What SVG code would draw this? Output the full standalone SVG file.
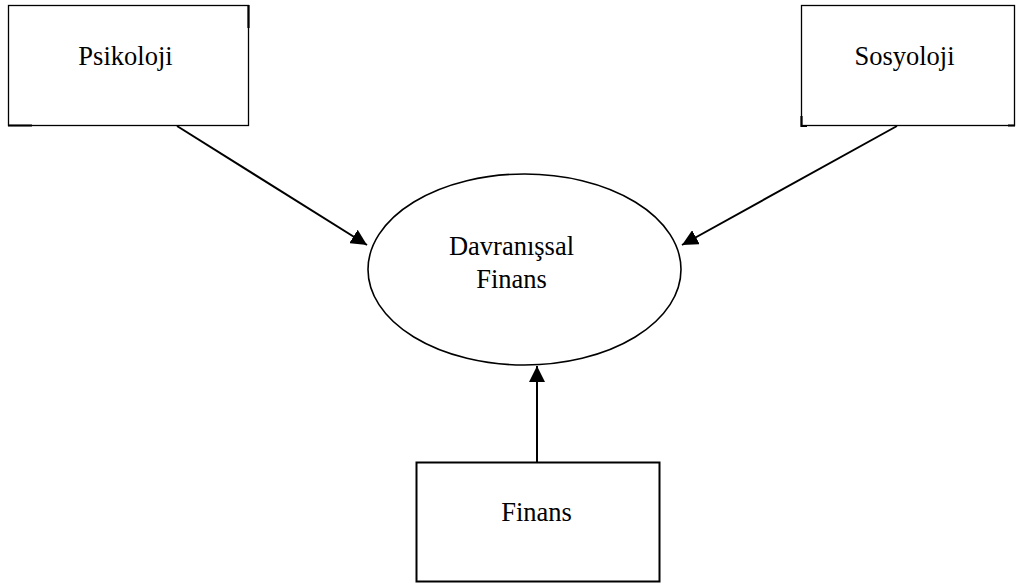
<svg xmlns="http://www.w3.org/2000/svg" width="1017" height="583" viewBox="0 0 1017 583">
<style>
.box{fill:#fff;stroke:#000;stroke-width:1.3}
.stub{stroke:#000;stroke-width:2.2;fill:none}
.lbl{font-family:"Liberation Serif","Times New Roman",serif;font-size:26.5px;fill:#000;text-anchor:middle}
.con{stroke:#000;stroke-width:2;fill:none}
</style>
<defs>
<marker id="ah" markerWidth="8" markerHeight="8" refX="8" refY="4" orient="auto" markerUnits="strokeWidth">
<path d="M0,0 L8,4 L0,8 Z" fill="#000"/>
</marker>
</defs>
<g id="psikoloji">
<rect class="box" x="8.5" y="5.5" width="240" height="120"/>
<path class="stub" d="M248.5,5 V28 M8,125.5 H32"/>
<text class="lbl" x="125.5" y="65">Psikoloji</text>
</g>
<g id="sosyoloji">
<rect class="box" x="801.5" y="5.5" width="213" height="120"/>
<path class="stub" d="M801.5,116 V126 H807 M1008,125.5 H1015"/>
<text class="lbl" x="904.5" y="65">Sosyoloji</text>
</g>
<g id="davranissal">
<ellipse cx="524.5" cy="269.5" rx="156.5" ry="95.5" fill="#fff" stroke="#000" stroke-width="1.6"/>
<text class="lbl" x="511.5" y="255">Davranışsal</text>
<text class="lbl" x="511.5" y="287.5">Finans</text>
</g>
<g id="finans">
<rect x="416.5" y="462.5" width="243" height="119" fill="#fff" stroke="#000" stroke-width="2"/>
<text class="lbl" x="536.5" y="520.5">Finans</text>
</g>
<g id="connectors">
<line class="con" x1="177" y1="126" x2="367" y2="245" marker-end="url(#ah)"/>
<line class="con" x1="897" y1="126" x2="682" y2="245" marker-end="url(#ah)"/>
<line class="con" x1="537" y1="462" x2="537" y2="366" marker-end="url(#ah)"/>
</g>
</svg>
